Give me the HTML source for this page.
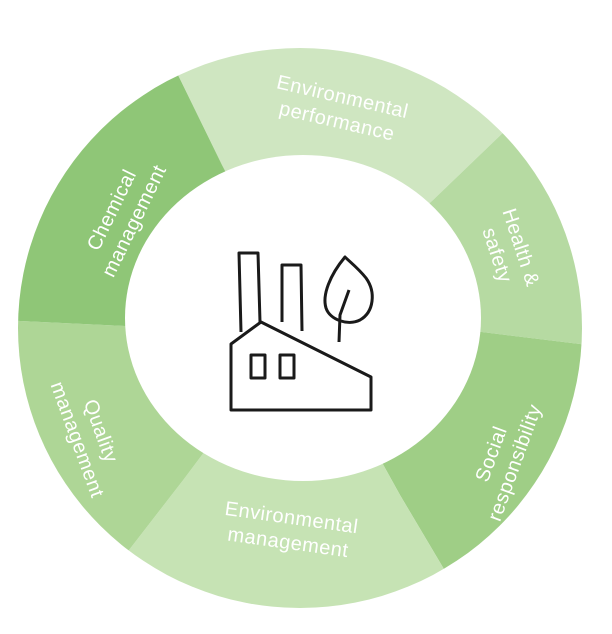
<!DOCTYPE html>
<html><head><style>
html,body{margin:0;padding:0;background:#fff;width:612px;height:634px;overflow:hidden;}
svg{display:block;position:absolute;left:0;top:0;}
text{font-family:"Liberation Sans",sans-serif;font-size:20px;fill:#fff;letter-spacing:0.5px;text-anchor:middle;}
</style></head><body>
<svg width="612" height="634" viewBox="0 0 612 634" overflow="hidden">
<defs><clipPath id="c"><ellipse cx="300" cy="328" rx="282" ry="280"/></clipPath></defs>
<g clip-path="url(#c)">
<polygon fill="#cfe6c1" points="303,320 222,165 156,30 350,0 536,101 433,200"/>
<polygon fill="#b6daa2" points="303,320 433,200 536,101 612,150 612,348 482,332"/>
<polygon fill="#9fce86" points="303,320 482,332 612,348 612,600 473,618 400,495"/>
<polygon fill="#c6e3b4" points="303,320 400,495 473,618 300,634 98,590 184,479"/>
<polygon fill="#aed696" points="303,320 184,479 98,590 0,500 0,320 125,326"/>
<polygon fill="#8fc677" points="303,320 125,326 0,320 0,50 156,30 222,165"/>
</g>
<ellipse cx="303" cy="318" rx="178" ry="163" fill="#fff"/>
<g fill="none" stroke="#1a1a1a" stroke-width="3" stroke-linejoin="round">
<polyline points="241,332 239,253 258,253 260,322"/>
<polyline points="282,322 282,265 301,265 302,331"/>
<polygon points="231,344 261,322 371,377 371,410 231,410"/>
<rect x="251" y="355" width="14" height="23"/>
<rect x="280" y="355" width="14" height="23"/>
<path d="M345,257 C330,275 322,295 326,308 C330,320 348,326 360,320 C374,312 376,292 366,278 C358,268 350,262 345,257 Z"/>
<path d="M349,290 L340,315 L339,342"/>
</g>
<g transform="translate(340,108) rotate(13)"><text x="0" y="-5">Environmental</text><text x="0" y="20">performance</text></g>
<g transform="translate(510,251) rotate(72)"><text x="0" y="-5">Health &amp;</text><text x="0" y="20">safety</text></g>
<g transform="translate(502,458) rotate(-70)"><text x="0" y="-5">Social</text><text x="0" y="20">responsibility</text></g>
<g transform="translate(290,529) rotate(8)"><text x="0" y="-5">Environmental</text><text x="0" y="20">management</text></g>
<g transform="translate(90,435) rotate(70)"><text x="0" y="-5">Quality</text><text x="0" y="20">management</text></g>
<g transform="translate(122,215) rotate(-64)"><text x="0" y="-5">Chemical</text><text x="0" y="20">management</text></g>
</svg>
</body></html>
